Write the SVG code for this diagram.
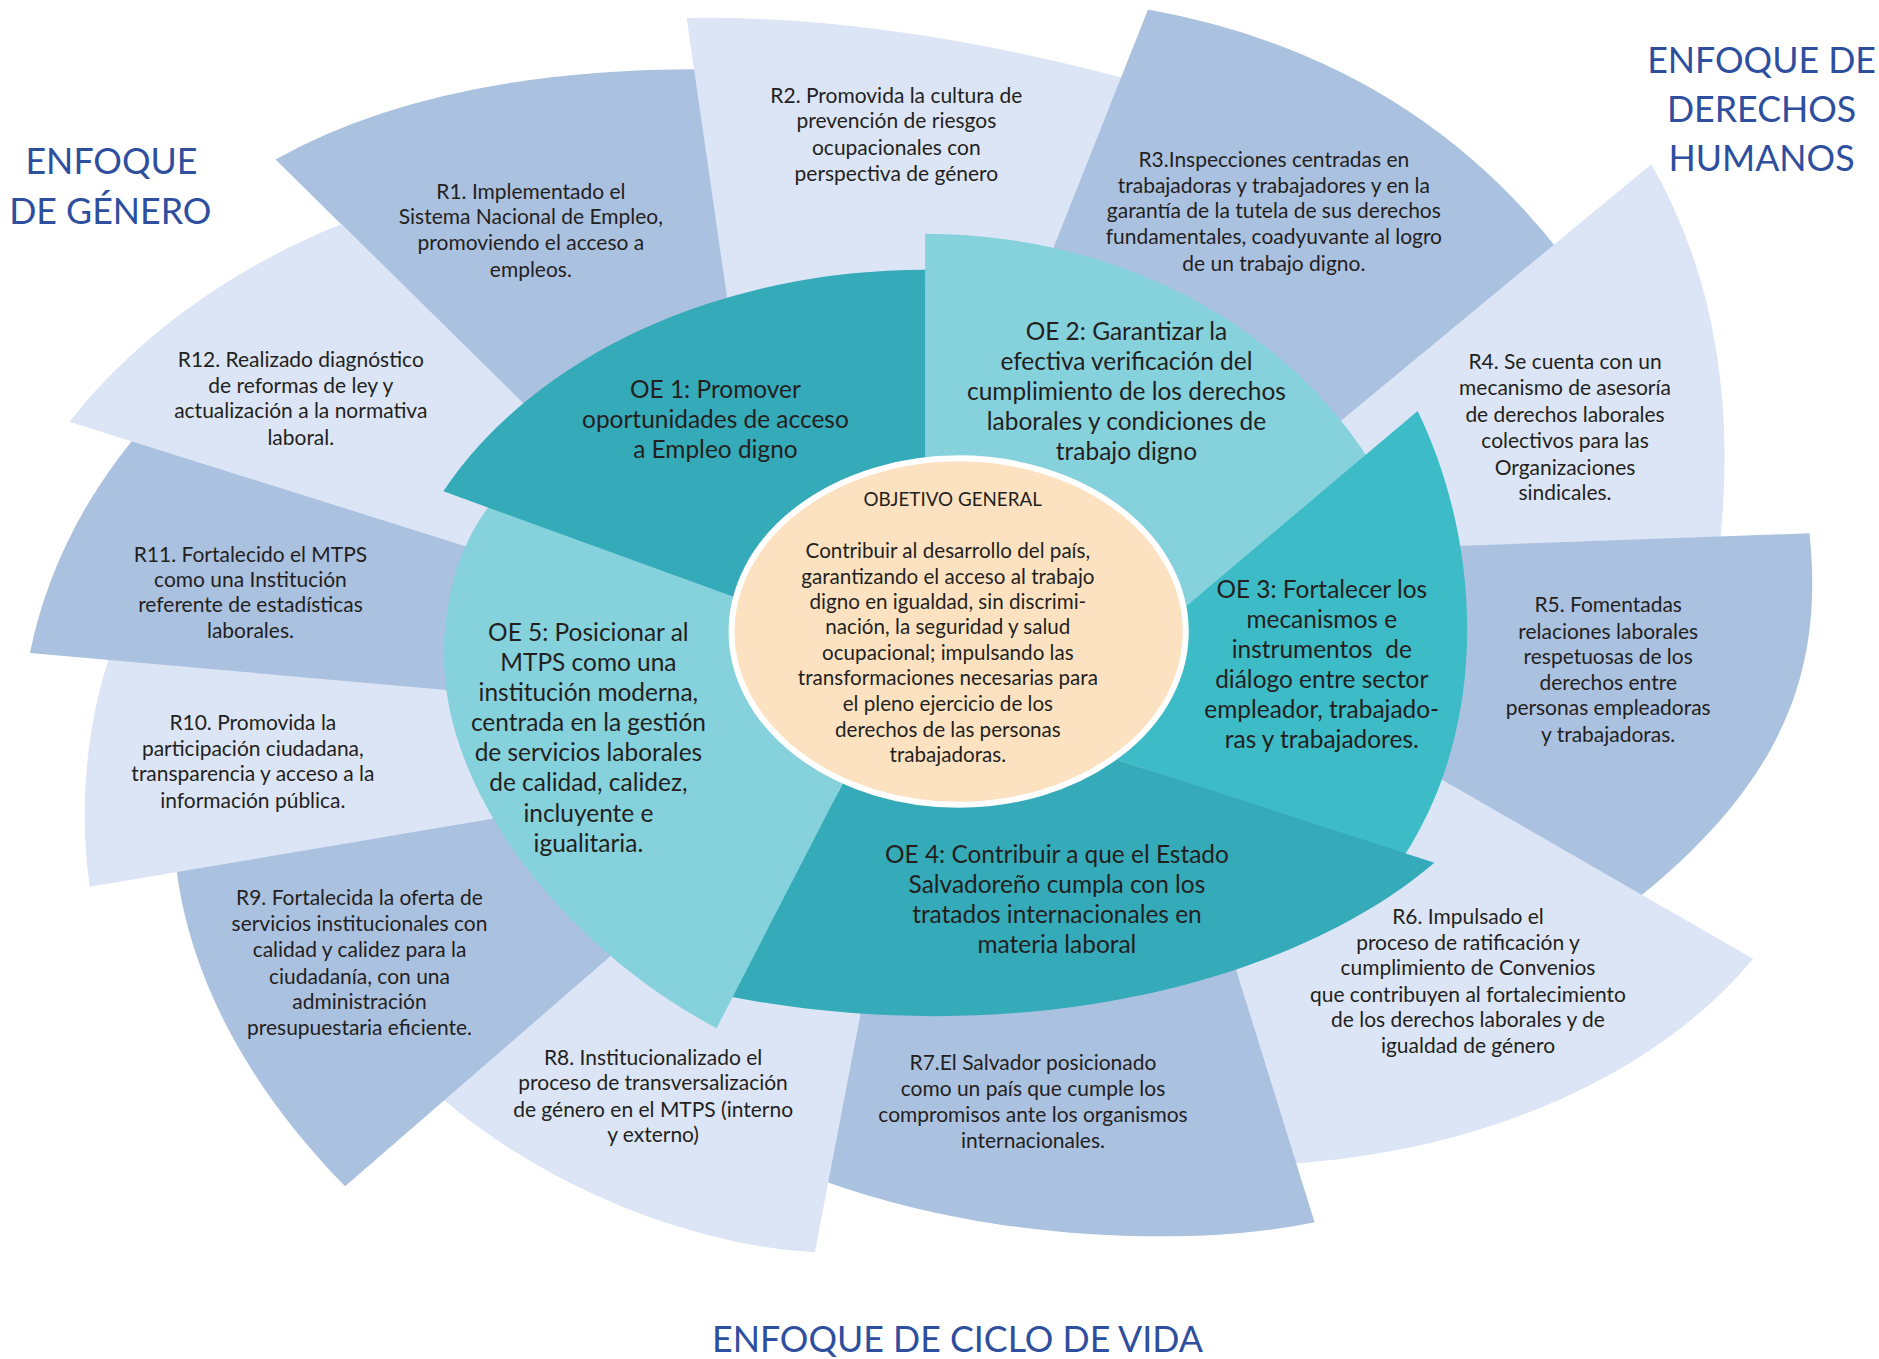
<svg xmlns="http://www.w3.org/2000/svg" width="1879" height="1359" viewBox="0 0 1879 1359">
<style>
.rd{fill:#abc1e0}.rl{fill:#dce5f5}.oed{fill:#35aab8}.oel{fill:#85d1dc}.oem{fill:#3dbbc6}
text{font-family:Lato,"Open Sans","Liberation Sans",sans-serif;fill:#231f20;text-anchor:middle}
.rt{font-size:17.5px}.ot{font-size:20.4px}.ct{font-size:17.2px}.cg{font-size:15.7px}
.ttl{font-size:29.8px;fill:#2e4e9e}
</style>
<rect width="1879" height="1359" fill="#ffffff"/>
<g transform="scale(1.19834)">
<g id="r1"><path class="rd" d="M230,133 Q370,55 600,58 L640,250 L800,527 L520,420 Z"/>
<text class="rt"><tspan x="443" y="166">R1. Implementado el</tspan><tspan x="443" y="187">Sistema Nacional de Empleo,</tspan><tspan x="443" y="209">promoviendo el acceso a</tspan><tspan x="443" y="231">empleos.</tspan></text></g>
<g id="r2"><path class="rl" d="M573,15 Q760,12 990,80 L800,400 L620,340 Z"/>
<text class="rt"><tspan x="748" y="86">R2. Promovida la cultura de</tspan><tspan x="748" y="107">prevención de riesgos</tspan><tspan x="748" y="129">ocupacionales con</tspan><tspan x="748" y="151">perspectiva de género</tspan></text></g>
<g id="r3"><path class="rd" d="M958,8 Q1190,50 1320,235 L1260,300 L1000,420 L860,255 Z"/>
<text class="rt"><tspan x="1063" y="139">R3.Inspecciones centradas en</tspan><tspan x="1063" y="161">trabajadoras y trabajadores y en la</tspan><tspan x="1063" y="182">garantía de la tutela de sus derechos</tspan><tspan x="1063" y="204">fundamentales, coadyuvante al logro</tspan><tspan x="1063" y="226">de un trabajo digno.</tspan></text></g>
<g id="r4"><path class="rl" d="M1378,137 Q1460,280 1432,480 L1150,480 L1060,400 Z"/>
<text class="rt"><tspan x="1306" y="308">R4. Se cuenta con un</tspan><tspan x="1306" y="330">mecanismo de asesoría</tspan><tspan x="1306" y="352">de derechos laborales</tspan><tspan x="1306" y="374">colectivos para las</tspan><tspan x="1306" y="396">Organizaciones</tspan><tspan x="1306" y="417">sindicales.</tspan></text></g>
<g id="r5"><path class="rd" d="M1510,445 C1522,560 1490,660 1340,770 L1150,620 L1150,458 Z"/>
<text class="rt"><tspan x="1342" y="511">R5. Fomentadas</tspan><tspan x="1342" y="533">relaciones laborales</tspan><tspan x="1342" y="554">respetuosas de los</tspan><tspan x="1342" y="576">derechos entre</tspan><tspan x="1342" y="597">personas empleadoras</tspan><tspan x="1342" y="619">y trabajadoras.</tspan></text></g>
<g id="r6"><path class="rl" d="M1463,800 C1380,900 1230,965 1060,972 L1000,800 L1150,620 Z"/>
<text class="rt"><tspan x="1225" y="771">R6. Impulsado el</tspan><tspan x="1225" y="793">proceso de ratificación y</tspan><tspan x="1225" y="814">cumplimiento de Convenios</tspan><tspan x="1225" y="836">que contribuyen al fortalecimiento</tspan><tspan x="1225" y="857">de los derechos laborales y de</tspan><tspan x="1225" y="879">igualdad de género</tspan></text></g>
<g id="r7"><path class="rd" d="M1097,1020 C1000,1040 820,1040 660,975 L700,800 L1010,740 Z"/>
<text class="rt"><tspan x="862" y="893">R7.El Salvador posicionado</tspan><tspan x="862" y="915">como un país que cumple los</tspan><tspan x="862" y="936">compromisos ante los organismos</tspan><tspan x="862" y="958">internacionales.</tspan></text></g>
<g id="r8"><path class="rl" d="M680,1045 C580,1040 440,990 340,890 L500,760 L725,810 Z"/>
<text class="rt"><tspan x="545" y="889">R8. Institucionalizado el</tspan><tspan x="545" y="910">proceso de transversalización</tspan><tspan x="545" y="932">de género en el MTPS (interno</tspan><tspan x="545" y="953">y externo)</tspan></text></g>
<g id="r9"><path class="rd" d="M288,990 C200,900 150,800 145,700 L400,650 L530,780 Z"/>
<text class="rt"><tspan x="300" y="755">R9. Fortalecida la oferta de</tspan><tspan x="300" y="777">servicios institucionales con</tspan><tspan x="300" y="799">calidad y calidez para la</tspan><tspan x="300" y="821">ciudadanía, con una</tspan><tspan x="300" y="842">administración</tspan><tspan x="300" y="864">presupuestaria eficiente.</tspan></text></g>
<g id="r10"><path class="rl" d="M75,740 C66,680 70,600 98,530 L420,560 L430,680 Z"/>
<text class="rt"><tspan x="211" y="609">R10. Promovida la</tspan><tspan x="211" y="631">participación ciudadana,</tspan><tspan x="211" y="652">transparencia y acceso a la</tspan><tspan x="211" y="674">información pública.</tspan></text></g>
<g id="r11"><path class="rd" d="M25,545 C38,480 70,410 130,345 L420,440 L420,580 Z"/>
<text class="rt"><tspan x="209" y="469">R11. Fortalecido el MTPS</tspan><tspan x="209" y="490">como una Institución</tspan><tspan x="209" y="511">referente de estadísticas</tspan><tspan x="209" y="532">laborales.</tspan></text></g>
<g id="r12"><path class="rl" d="M58,352 C110,285 190,225 285,187 L480,379 L520,470 L440,472 Z"/>
<text class="rt"><tspan x="251" y="306">R12. Realizado diagnóstico</tspan><tspan x="251" y="328">de reformas de ley y</tspan><tspan x="251" y="349">actualización a la normativa</tspan><tspan x="251" y="371">laboral.</tspan></text></g>

<g id="oe2"><path class="oel" d="M772,556 L772,195 A421.5,361 0 0 1 1182,472 L1000,545 L800,540 Z"/>
<text class="ot"><tspan x="940" y="284">OE 2: Garantizar la</tspan><tspan x="940" y="309">efectiva verificación del</tspan><tspan x="940" y="334">cumplimiento de los derechos</tspan><tspan x="940" y="359">laborales y condiciones de</tspan><tspan x="940" y="384">trabajo digno</tspan></text></g>
<g id="oe3"><path class="oem" d="M1183,343 C1235,450 1245,600 1172,714 L935,635 L800,527 L985,510 Z"/>
<text class="ot" xml:space="preserve"><tspan x="1103" y="499">OE 3: Fortalecer los</tspan><tspan x="1103" y="524">mecanismos e</tspan><tspan x="1103" y="549">instrumentos  de</tspan><tspan x="1103" y="574">diálogo entre sector</tspan><tspan x="1103" y="599">empleador, trabajado-</tspan><tspan x="1103" y="624">ras y trabajadores.</tspan></text></g>
<g id="oe4"><path class="oed" d="M1197,720 C1080,820 850,880 600,830 L700,660 L760,540 L850,560 L935,635 Z"/>
<text class="ot"><tspan x="882" y="720">OE 4: Contribuir a que el Estado</tspan><tspan x="882" y="745">Salvadoreño cumpla con los</tspan><tspan x="882" y="770">tratados internacionales en</tspan><tspan x="882" y="795">materia laboral</tspan></text></g>
<g id="oe5"><path class="oel" d="M598,858 C470,790 355,650 372,520 C376,480 390,445 410,420 L700,520 L760,540 L700,660 Z"/>
<text class="ot"><tspan x="491" y="535">OE 5: Posicionar al</tspan><tspan x="491" y="560">MTPS como una</tspan><tspan x="491" y="585">institución moderna,</tspan><tspan x="491" y="610">centrada en la gestión</tspan><tspan x="491" y="635">de servicios laborales</tspan><tspan x="491" y="660">de calidad, calidez,</tspan><tspan x="491" y="686">incluyente e</tspan><tspan x="491" y="711">igualitaria.</tspan></text></g>
<g id="oe1"><path class="oed" d="M772,556 L370,410 A448,331 0 0 1 772,225 Z"/>
<text class="ot"><tspan x="597" y="332">OE 1: Promover</tspan><tspan x="597" y="357">oportunidades de acceso</tspan><tspan x="597" y="382">a Empleo digno</tspan></text></g>

<g id="objetivo-general"><ellipse cx="800" cy="527" rx="189.5" ry="144.5" fill="#fde2c1" stroke="#ffffff" stroke-width="5"/>
<text class="cg" x="795" y="422">OBJETIVO GENERAL</text>
<text class="ct"><tspan x="791" y="466">Contribuir al desarrollo del país,</tspan><tspan x="791" y="487">garantizando el acceso al trabajo</tspan><tspan x="791" y="508">digno en igualdad, sin discrimi-</tspan><tspan x="791" y="529">nación, la seguridad y salud</tspan><tspan x="791" y="551">ocupacional; impulsando las</tspan><tspan x="791" y="572">transformaciones necesarias para</tspan><tspan x="791" y="593">el pleno ejercicio de los</tspan><tspan x="791" y="615">derechos de las personas</tspan><tspan x="791" y="636">trabajadoras.</tspan></text></g>

<g id="enfoque-genero"><text class="ttl"><tspan x="93" y="145">ENFOQUE</tspan><tspan x="92" y="187">DE GÉNERO</tspan></text></g>
<g id="enfoque-derechos"><text class="ttl"><tspan x="1470" y="61">ENFOQUE DE</tspan><tspan x="1470" y="102">DERECHOS</tspan><tspan x="1470" y="143">HUMANOS</tspan></text></g>
<g id="enfoque-ciclo"><text class="ttl" x="799" y="1128">ENFOQUE DE CICLO DE VIDA</text></g>
</g>
</svg>
